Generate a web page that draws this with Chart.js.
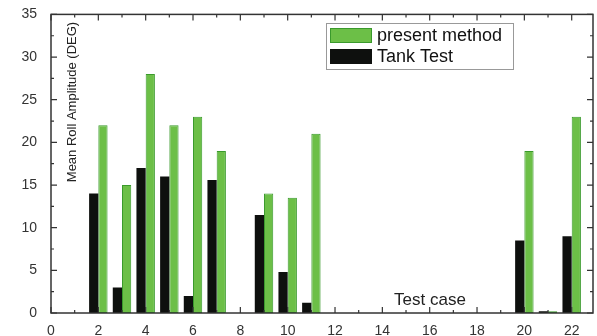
<!DOCTYPE html>
<html>
<head>
<meta charset="utf-8">
<script src="https://cdn.jsdelivr.net/npm/chart.js@4"></script>
<style>
  body { margin: 0; background: #fff; }
  #wrap { width: 597px; height: 336px; }
</style>
</head>
<body>
<div id="wrap"><canvas id="roll" width="597" height="336"></canvas></div>
<script>
// test cases and mean roll amplitude (deg)
const testCases = [2, 3, 4, 5, 6, 7, 9, 10, 11, 20, 21, 22];
const tankTest = [14, 3, 17, 16, 2, 15.6, 11.5, 4.8, 1.2, 8.5, 0.2, 9];
const presentMethod = [22, 15, 28, 22, 23, 19, 14, 13.5, 21, 19, 0.2, 23];

const xTicks = [0, 2, 4, 6, 8, 10, 12, 14, 16, 18, 20, 22];
const xMinor = [1, 3, 5, 7, 9, 11, 13, 15, 17, 19, 21];
const yTicks = [0, 5, 10, 15, 20, 25, 30, 35];
const yMinor = [2.5, 7.5, 12.5, 17.5, 22.5, 27.5, 32.5];

const FONT = '"Liberation Sans", Arial, sans-serif';
const AXIS = '#333';

const toPoints = vals => testCases.map((c, i) => ({ x: c, y: vals[i] }));

// frame, inward ticks, titles and boxed legend drawn on top
const decor = {
  id: 'decor',
  afterDraw(chart) {
    const { ctx, chartArea: a, scales: { x, y } } = chart;
    ctx.save();
    ctx.strokeStyle = AXIS;
    ctx.lineWidth = 1.5;
    ctx.strokeRect(a.left, a.top, a.right - a.left, a.bottom - a.top);

    ctx.lineWidth = 1.2;
    const tick = (v, len, horiz) => {
      ctx.beginPath();
      if (horiz) {
        const px = x.getPixelForValue(v);
        ctx.moveTo(px, a.bottom); ctx.lineTo(px, a.bottom - len);
        ctx.moveTo(px, a.top); ctx.lineTo(px, a.top + len);
      } else {
        const py = y.getPixelForValue(v);
        ctx.moveTo(a.left, py); ctx.lineTo(a.left + len, py);
        ctx.moveTo(a.right, py); ctx.lineTo(a.right - len, py);
      }
      ctx.stroke();
    };
    xTicks.forEach(v => tick(v, 6, true));
    xMinor.forEach(v => tick(v, 3, true));
    yTicks.forEach(v => tick(v, 6, false));
    yMinor.forEach(v => tick(v, 3, false));

    // axis titles sit inside the plot
    ctx.fillStyle = '#222';
    ctx.font = '17px ' + FONT;
    ctx.textAlign = 'center';
    ctx.textBaseline = 'middle';
    ctx.fillText('Test case', 430, 300);

    ctx.save();
    ctx.translate(72, 102);
    ctx.rotate(-Math.PI / 2);
    ctx.font = '13px ' + FONT;
    ctx.fillText('Mean Roll Amplitude (DEG)', 0, 0);
    ctx.restore();

    // legend box
    ctx.strokeStyle = '#999';
    ctx.lineWidth = 1;
    ctx.fillStyle = '#fff';
    ctx.fillRect(326, 23, 187, 46);
    ctx.strokeRect(326.5, 23.5, 187, 46);
    const items = [chart.data.datasets[1], chart.data.datasets[0]];
    items.forEach((ds, i) => {
      const top = 28 + i * 21;
      ctx.fillStyle = ds.backgroundColor;
      ctx.fillRect(330, top, 42, 15);
      if (ds.borderWidth) {
        ctx.strokeStyle = ds.borderColor;
        ctx.strokeRect(330.5, top + 0.5, 41, 14);
      }
      ctx.fillStyle = '#111';
      ctx.font = '18px ' + FONT;
      ctx.textAlign = 'left';
      ctx.fillText(ds.label, 377, top + 8);
    });
    ctx.restore();
  }
};

new Chart(document.getElementById('roll'), {
  type: 'bar',
  data: {
    datasets: [
      {
        label: 'Tank Test',
        data: toPoints(tankTest),
        backgroundColor: '#0e100e',
        borderWidth: 0
      },
      {
        label: 'present method',
        data: toPoints(presentMethod),
        backgroundColor: '#6cbf47',
        borderColor: '#3a9a2c',
        borderWidth: 1,
        borderSkipped: false
      }
    ]
  },
  options: {
    responsive: false,
    animation: false,
    categoryPercentage: 0.78,
    barPercentage: 1.0,
    layout: { padding: { top: 13, right: 4, left: 0, bottom: 0 } },
    plugins: { legend: { display: false }, tooltip: { enabled: false } },
    scales: {
      x: {
        type: 'linear',
        min: 0,
        max: 22.9,
        offset: false,
        grid: { display: false },
        border: { display: false },
        afterBuildTicks: s => { s.ticks = xTicks.map(v => ({ value: v })); },
        afterFit: s => { s.height = 23; },
        ticks: { color: AXIS, font: { family: FONT, size: 14 }, padding: 2, maxRotation: 0 }
      },
      y: {
        min: 0,
        max: 35,
        grid: { display: false },
        border: { display: false },
        afterBuildTicks: s => { s.ticks = yTicks.map(v => ({ value: v })); },
        afterFit: s => { s.width = 51; },
        ticks: { color: AXIS, font: { family: FONT, size: 14 }, padding: 6 }
      }
    }
  },
  plugins: [decor]
});
</script>
</body>
</html>
